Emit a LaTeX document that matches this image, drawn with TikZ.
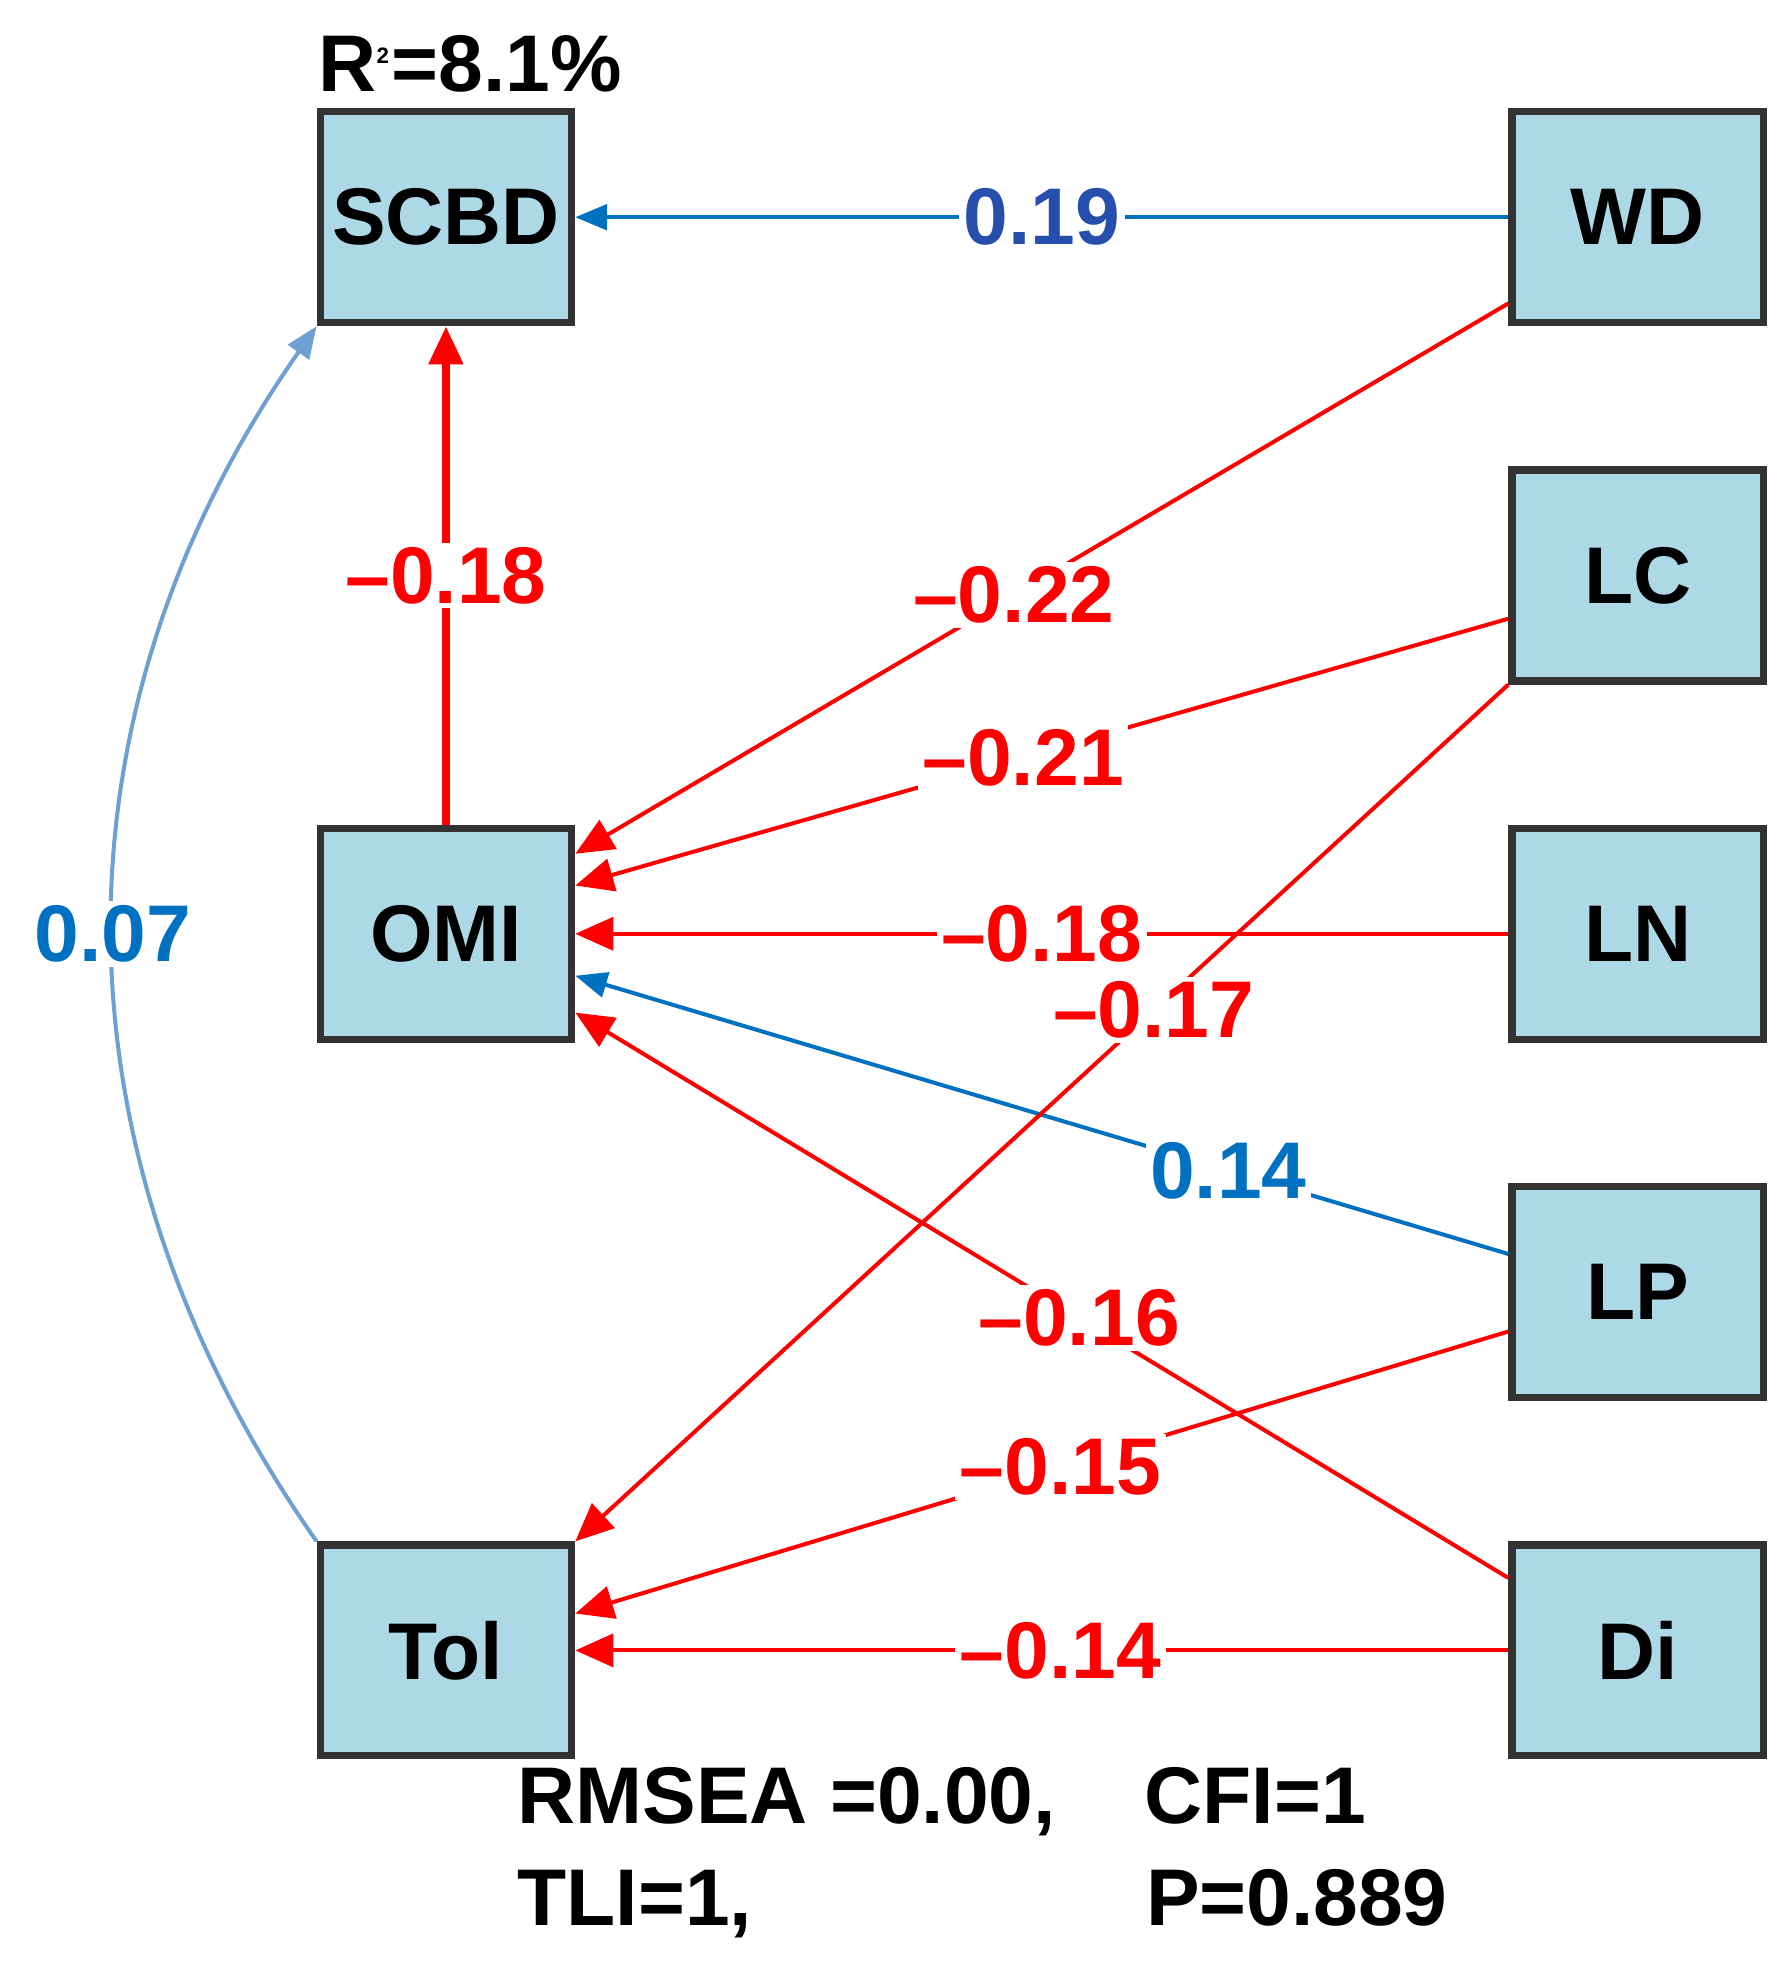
\documentclass[tikz,border=0pt]{standalone}
\usepackage{fontspec}
\setmainfont{Liberation Sans}
\usetikzlibrary{arrows.meta,positioning}
\definecolor{boxfill}{RGB}{173,216,230}
\definecolor{pathred}{RGB}{255,0,0}
\definecolor{pathblue}{RGB}{0,112,192}
\definecolor{softblue}{RGB}{110,160,210}
\tikzset{
  var/.style={draw=black!80, line width=1.6pt, fill=boxfill, minimum width=1.98cm, minimum height=1.66cm, inner sep=0pt, font=\fontsize{18}{22}\selectfont\bfseries},
  negpath/.style={draw=pathred, line width=0.9pt, -{Triangle[length=0.3cm,width=0.26cm]}},
  pospath/.style={draw=pathblue, line width=0.9pt, -{Triangle[length=0.25cm,width=0.2cm]}},
  coef/.style={fill=white, inner sep=1pt, font=\fontsize{18}{22}\selectfont\bfseries},
  stat/.style={font=\fontsize{18}{22}\selectfont\bfseries, anchor=west}
}
\begin{document}
\begin{tikzpicture}
\useasboundingbox (0,0) rectangle (14.1,15.6);
% left column
\node[var] (SCBD) at (3.51,13.89) {SCBD};
\node[var] (OMI) at (3.51,8.25) {OMI};
\node[var] (Tol) at (3.51,2.61) {Tol};
% right column
\node[var] (WD) at (12.89,13.89) {WD};
\node[var] (LC) at (12.89,11.07) {LC};
\node[var] (LN) at (12.89,8.25) {LN};
\node[var] (LP) at (12.89,5.43) {LP};
\node[var] (Di) at (12.89,2.61) {Di};
\node[font=\fontsize{18}{22}\selectfont\bfseries] (R2) at (3.7,15.1) {R\textsuperscript{\tiny 2}=8.1\%};

% paths to SCBD
\draw[pospath] (WD.west) -- node[coef, pos=0.5, text=pathblue!70!violet] {0.19} (SCBD.east);
\draw[negpath, line width=1.8pt] (OMI.north) -- node[coef, pos=0.5, text=pathred] {\textendash0.18} (SCBD.south);
\draw[pospath, draw=softblue] (Tol.north west) to[bend left=35] node[coef, pos=0.5, text=pathblue] {0.07} (SCBD.south west);

% paths to OMI
\draw[negpath] ([yshift=0.18cm]WD.south west) -- node[coef, pos=0.53, text=pathred] {\textendash0.22} ([yshift=0.63cm]OMI.east);
\draw[negpath] ([yshift=-0.34cm]LC.west) -- node[coef, pos=0.52, text=pathred] {\textendash0.21} ([yshift=0.38cm]OMI.east);
\draw[negpath] (LN.west) -- node[coef, pos=0.5, text=pathred] {\textendash0.18} (OMI.east);
\draw[pospath] ([yshift=0.3cm]LP.west) -- node[coef, pos=0.3, text=pathblue] {0.14} ([yshift=-0.33cm]OMI.east);
\draw[negpath] ([yshift=0.57cm]Di.west) -- node[coef, pos=0.46, text=pathred] {\textendash0.16} ([yshift=-0.62cm]OMI.east);

% paths to Tol
\draw[negpath] (LC.south west) -- node[coef, pos=0.38, text=pathred] {\textendash0.17} (Tol.north east);
\draw[negpath] ([yshift=-0.31cm]LP.west) -- node[coef, pos=0.48, text=pathred] {\textendash0.15} ([yshift=0.29cm]Tol.east);
\draw[negpath] (Di.west) -- node[coef, pos=0.48, text=pathred] {\textendash0.14} (Tol.east);

% fit indices
\node[stat] (fit1) at (3.95,1.42) {RMSEA =0.00,\hspace{0.7cm}CFI=1};
\node[stat] (fit2) at (3.95,0.62) {TLI=1,\hspace{3.1cm}P=0.889};
\end{tikzpicture}
\end{document}
